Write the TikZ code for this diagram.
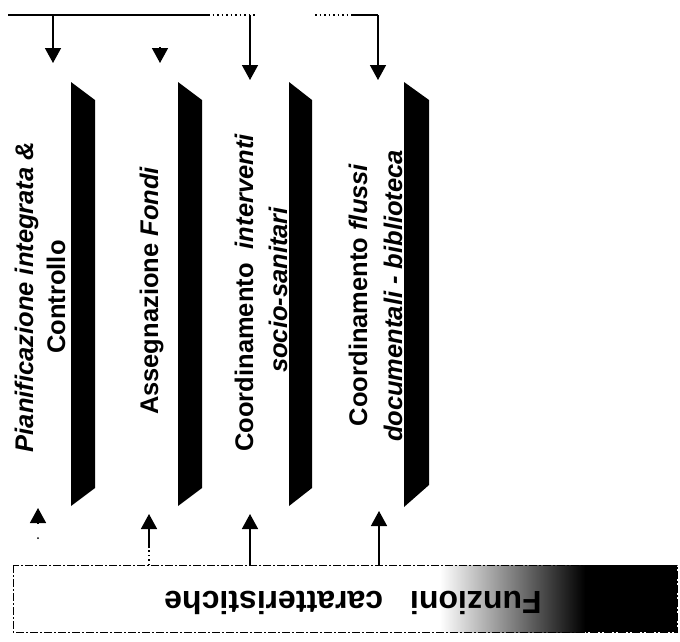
\documentclass[tikz,border=0pt]{standalone}
\usepackage{fontspec}
\setmainfont{Liberation Sans}
\usetikzlibrary{arrows.meta}
\begin{document}
\begin{tikzpicture}[x=1pt,y=-1pt,
  conn/.style={line width=1.5pt,draw=black},
  arr/.style={conn,-{Triangle[length=15pt,width=16pt]}},
  dotline/.style={line width=1.5pt,dash pattern=on 1.5pt off 3pt},
  bar/.style={fill=black},
  coltext/.style={rotate=90,anchor=base,inner sep=0pt,font=\fontsize{25.5}{31}\selectfont\bfseries},
  boxtext/.style={rotate=180,anchor=base,inner sep=0pt,font=\fontsize{32}{38}\selectfont\bfseries},
  boxline/.style={line width=1pt,dash pattern=on 8pt off 2pt on 2pt off 2pt}]
\useasboundingbox (0,0) rectangle (680,641);
\fill[white] (0,0) rectangle (680,641);

% ---- bars ----
\fill[bar] (71,82) -- (95,100) -- (95,488) -- (71,506) -- cycle;
\fill[bar] (178,82) -- (202,100) -- (202,488) -- (178,506) -- cycle;
\fill[bar] (289,82) -- (312,100) -- (312,488) -- (289,506) -- cycle;
\fill[bar] (404,82) -- (429,100) -- (429,485) -- (404,507) -- cycle;

% ---- column texts ----
\node[coltext] (c1a) at (33,297) {\itshape Pianificazione integrata \&};
\node[coltext] (c1b) at (65,297) {Controllo};
\node[coltext] (c2) at (158,291) {Assegnazione \itshape Fondi};
\node[coltext] (c3a) at (253,293) {Coordinamento\ \ \itshape interventi};
\node[coltext] (c3b) at (287,290) {\itshape socio-sanitari};
\node[coltext] (c4a) at (367,295) {Coordinamento \itshape flussi};
\node[coltext] (c4b) at (402,296) {\itshape documentali - biblioteca};

% ---- top feedback line ----
\coordinate (tl) at (8,15);
\coordinate (t1) at (53,15);
\coordinate (ts) at (208,15);
\coordinate (td) at (255,15);
\coordinate (t3) at (250,15);
\coordinate (tg) at (315,15);
\coordinate (tq) at (352,15);
\coordinate (tc) at (378,15);
\draw[conn] (tl) -- (ts);
\draw[dotline] (ts) -- (td);
\draw[dotline] (tg) -- (tq);
\draw[conn] (tq) -- (tc);
\coordinate (e1) at (53,63);
\coordinate (s2) at (160,47);
\coordinate (e2) at (160,63);
\coordinate (e3) at (250,80);
\coordinate (e4) at (378,80);
\draw[arr] (t1) -- (e1);
\draw[arr] (s2) -- (e2);
\draw[arr] (t3) -- (e3);
\draw[arr] (tc) -- (e4);

% ---- bottom box ----
\coordinate (bl) at (13,565);
\coordinate (br) at (677,632);
\shade[left color=white,right color=black] (440,565) rectangle (585,632);
\fill[black] (585,565) rectangle (677,632);
\draw[boxline] (bl) rectangle (br);
\node[boxtext] (fz) at (353,591) {Funzioni\hspace{27pt}caratteristiche};

% ---- bottom arrows ----
\coordinate (b1s) at (38,524);
\coordinate (b1e) at (38,508);
\coordinate (b2b) at (149,565);
\coordinate (b2s) at (149,548);
\coordinate (b2e) at (149,514);
\coordinate (b3s) at (250,565);
\coordinate (b3e) at (250,514);
\coordinate (b4s) at (379,565);
\coordinate (b4e) at (379,511);
\draw[arr] (b1s) -- (b1e);
\fill (38,538) circle (1pt);
\draw[dotline] (b2b) -- (b2s);
\draw[arr] (b2s) -- (b2e);
\draw[arr] (b3s) -- (b3e);
\draw[arr] (b4s) -- (b4e);
\end{tikzpicture}
\end{document}
